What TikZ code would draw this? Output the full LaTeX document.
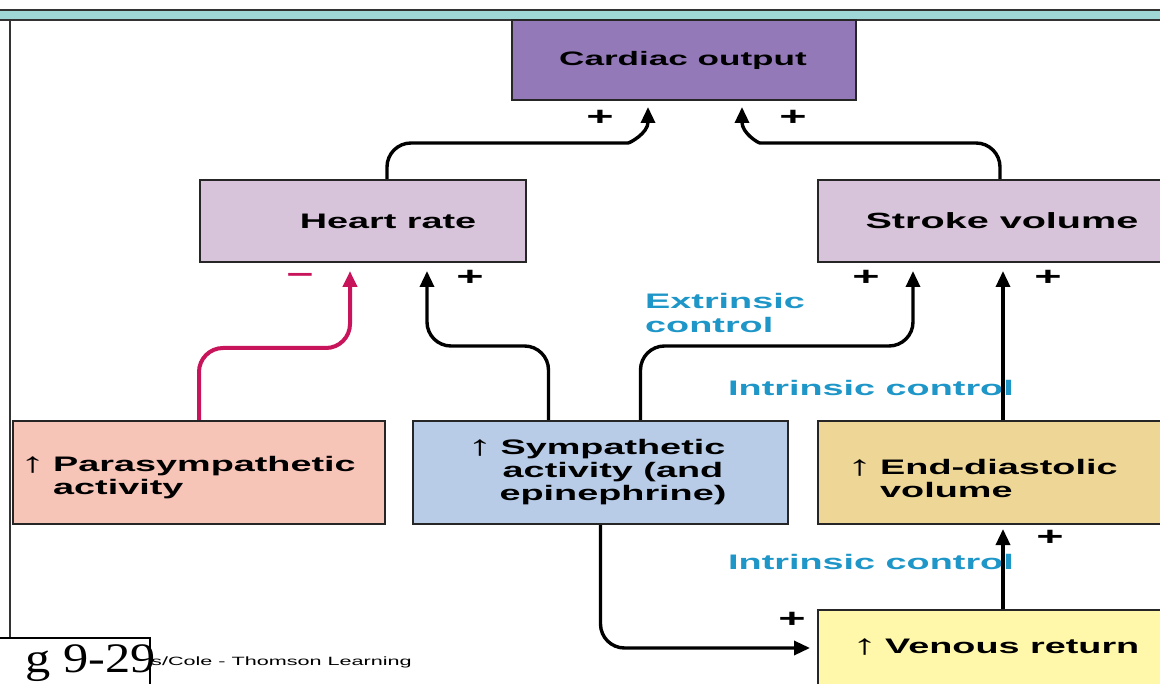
\documentclass[tikz,border=0pt]{standalone}
\usepackage{fontspec}
\setmainfont{Liberation Sans}[FakeStretch=1.8]
\newfontfamily\figfont{Liberation Serif}[FakeStretch=1.2]
\usetikzlibrary{calc,arrows.meta}

\definecolor{copurple}{RGB}{148,121,185}
\definecolor{ratemauve}{RGB}{216,196,218}
\definecolor{parapink}{RGB}{247,196,184}
\definecolor{symblue}{RGB}{184,204,232}
\definecolor{edvtan}{RGB}{238,214,150}
\definecolor{vryellow}{RGB}{255,248,170}
\definecolor{inhibred}{RGB}{200,20,90}
\definecolor{ctrlteal}{RGB}{30,150,200}
\definecolor{bandteal}{RGB}{160,215,215}

\tikzset{
  box/.style={draw=black!85, line width=2pt, inner sep=0pt},
  lbl/.style={font=\fontsize{21}{23}\selectfont\bfseries, inner sep=0pt},
  ctrl/.style={lbl, text=ctrlteal, align=left},
  sign/.style={font=\fontsize{26}{26}\selectfont\bfseries, inner sep=0pt},
  conn/.style={line width=3.4pt, -{Triangle[length=16pt,width=14pt]}, rounded corners=24pt},
}
\newcommand{\upar}{\llap{\mdseries\fontsize{28}{28}\selectfont\raisebox{-1pt}{↑}\hspace{8pt}}}

\begin{document}
\begin{tikzpicture}[x=1pt,y=-1pt]
		%%%%% START %%%%%
		\useasboundingbox (0,0) rectangle (1160,684);
		\clip (0,0) rectangle (1160,684);
		\fill[white] (0,0) rectangle (1160,684);
		
		% frame
		\fill[bandteal] (0,10) rectangle (1160,20);
		\draw[line width=2pt, black!80] (0,10) -- (1160,10);
		\draw[line width=2pt, black!80] (0,20) -- (1160,20);
		\draw[line width=2pt, black!80] (10,20) -- (10,638);
		
		% boxes
		\node[box, fill=copurple, minimum width=344pt, minimum height=80pt] (co) at (684,60) {};
		\node[box, fill=ratemauve, minimum width=326pt, minimum height=82pt] (hr) at (363,221) {};
		\node[box, fill=ratemauve, minimum width=364pt, minimum height=82pt] (sv) at (1000,221) {};
		\node[box, fill=parapink, minimum width=372pt, minimum height=103pt] (ps) at (199,472.5) {};
		\node[box, fill=symblue, minimum width=375pt, minimum height=103pt] (sa) at (600.5,472.5) {};
		\node[box, fill=edvtan, minimum width=370pt, minimum height=103pt] (edv) at (1003,472.5) {};
		\node[box, fill=vryellow, minimum width=370pt, minimum height=76pt] (vr) at (1003,648) {};
		
		% box texts
		\node[lbl, font=\fontsize{19.5}{23}\selectfont\bfseries] (cotxt) at (683,60) {Cardiac output};
		\node[lbl] (hrtxt) at ([xshift=25pt]hr.center) {Heart rate};
		\node[lbl, font=\fontsize{22}{23}\selectfont\bfseries] (svtxt) at ([xshift=2pt]sv.center) {Stroke volume};
		\node[lbl, align=left, anchor=west] (pstxt) at (53,478) {\upar Parasympathetic\\activity};
		\node[lbl, align=center] (satxt) at (613,472) {\upar Sympathetic\\activity (and\\epinephrine)};
		\node[lbl, align=left, anchor=west] (edvtxt) at (880,478) {\upar End-diastolic\\volume};
		\node[lbl, anchor=west] (vrtxt) at (885,647) {\upar Venous return};
		
		% control labels
		\node[ctrl, font=\fontsize{21}{24}\selectfont\bfseries, anchor=west] (extr) at (645,313) {Extrinsic\\control};
		\node[ctrl, anchor=west] (intr1) at (728,388) {Intrinsic control};
		\node[ctrl, anchor=west] (intr2) at (728,562) {Intrinsic control};
		
		% connectors
		\draw[conn] ($(hr.north)+(24,0)$) |- ($(co.south)+(-80,42)$) [sharp corners] .. controls ($(co.south)+(-54,42)$) and ($(co.south)+(-36,32)$) .. ($(co.south)+(-36,6)$);
		\draw[conn] (sv.north) |- ($(co.south)+(100,42)$) [sharp corners] .. controls ($(co.south)+(74,42)$) and ($(co.south)+(58,32)$) .. ($(co.south)+(58,6)$);
		\draw[conn, inhibred, line width=4pt] (ps.north) |- ($(hr.south)+(-13,85)$) -- ($(hr.south)+(-13,8)$);
		\draw[conn] ($(sa.north)+(-52,0)$) |- ($(hr.south)+(64,83)$) -- ($(hr.south)+(64,8)$);
		\draw[conn] ($(sa.north)+(40,0)$) |- ($(sv.south)+(-87,83)$) -- ($(sv.south)+(-87,8)$);
		\draw[conn] (edv.north) -- ($(sv.south -| edv.north)+(0,8)$);
		\draw[conn] (vr.north) -- ($(edv.south)+(0,4)$);
		\draw[conn] (sa.south) |- ($(vr.west)+(-7,0)$);
		
		% signs
		\node[sign] (s1) at (600,118) {+};
		\node[sign] (s2) at (793,118) {+};
		\node[sign, text=inhibred] (s3) at (300,278) {−};
		\node[sign] (s4) at (470,278) {+};
		\node[sign] (s5) at (866,278) {+};
		\node[sign] (s6) at (1048,278) {+};
		\node[sign] (s7) at (1050,538) {+};
		\node[sign] (s8) at (792,620) {+};
		
		% figure tag
		\draw[fill=white, line width=1.5pt] (-5,638) rectangle (150,700);
		\node[font=\figfont\fontsize{42}{42}\selectfont, anchor=base east, inner sep=0pt] (fignum) at (156,672) {g 9-29};
		\node[font=\fontsize{12}{12}\selectfont, anchor=west, inner sep=0pt] (credit) at (151,662) {s/Cole - Thomson Learning};
		
		%%%%% END %%%%%
	\end{tikzpicture}
\end{document}
